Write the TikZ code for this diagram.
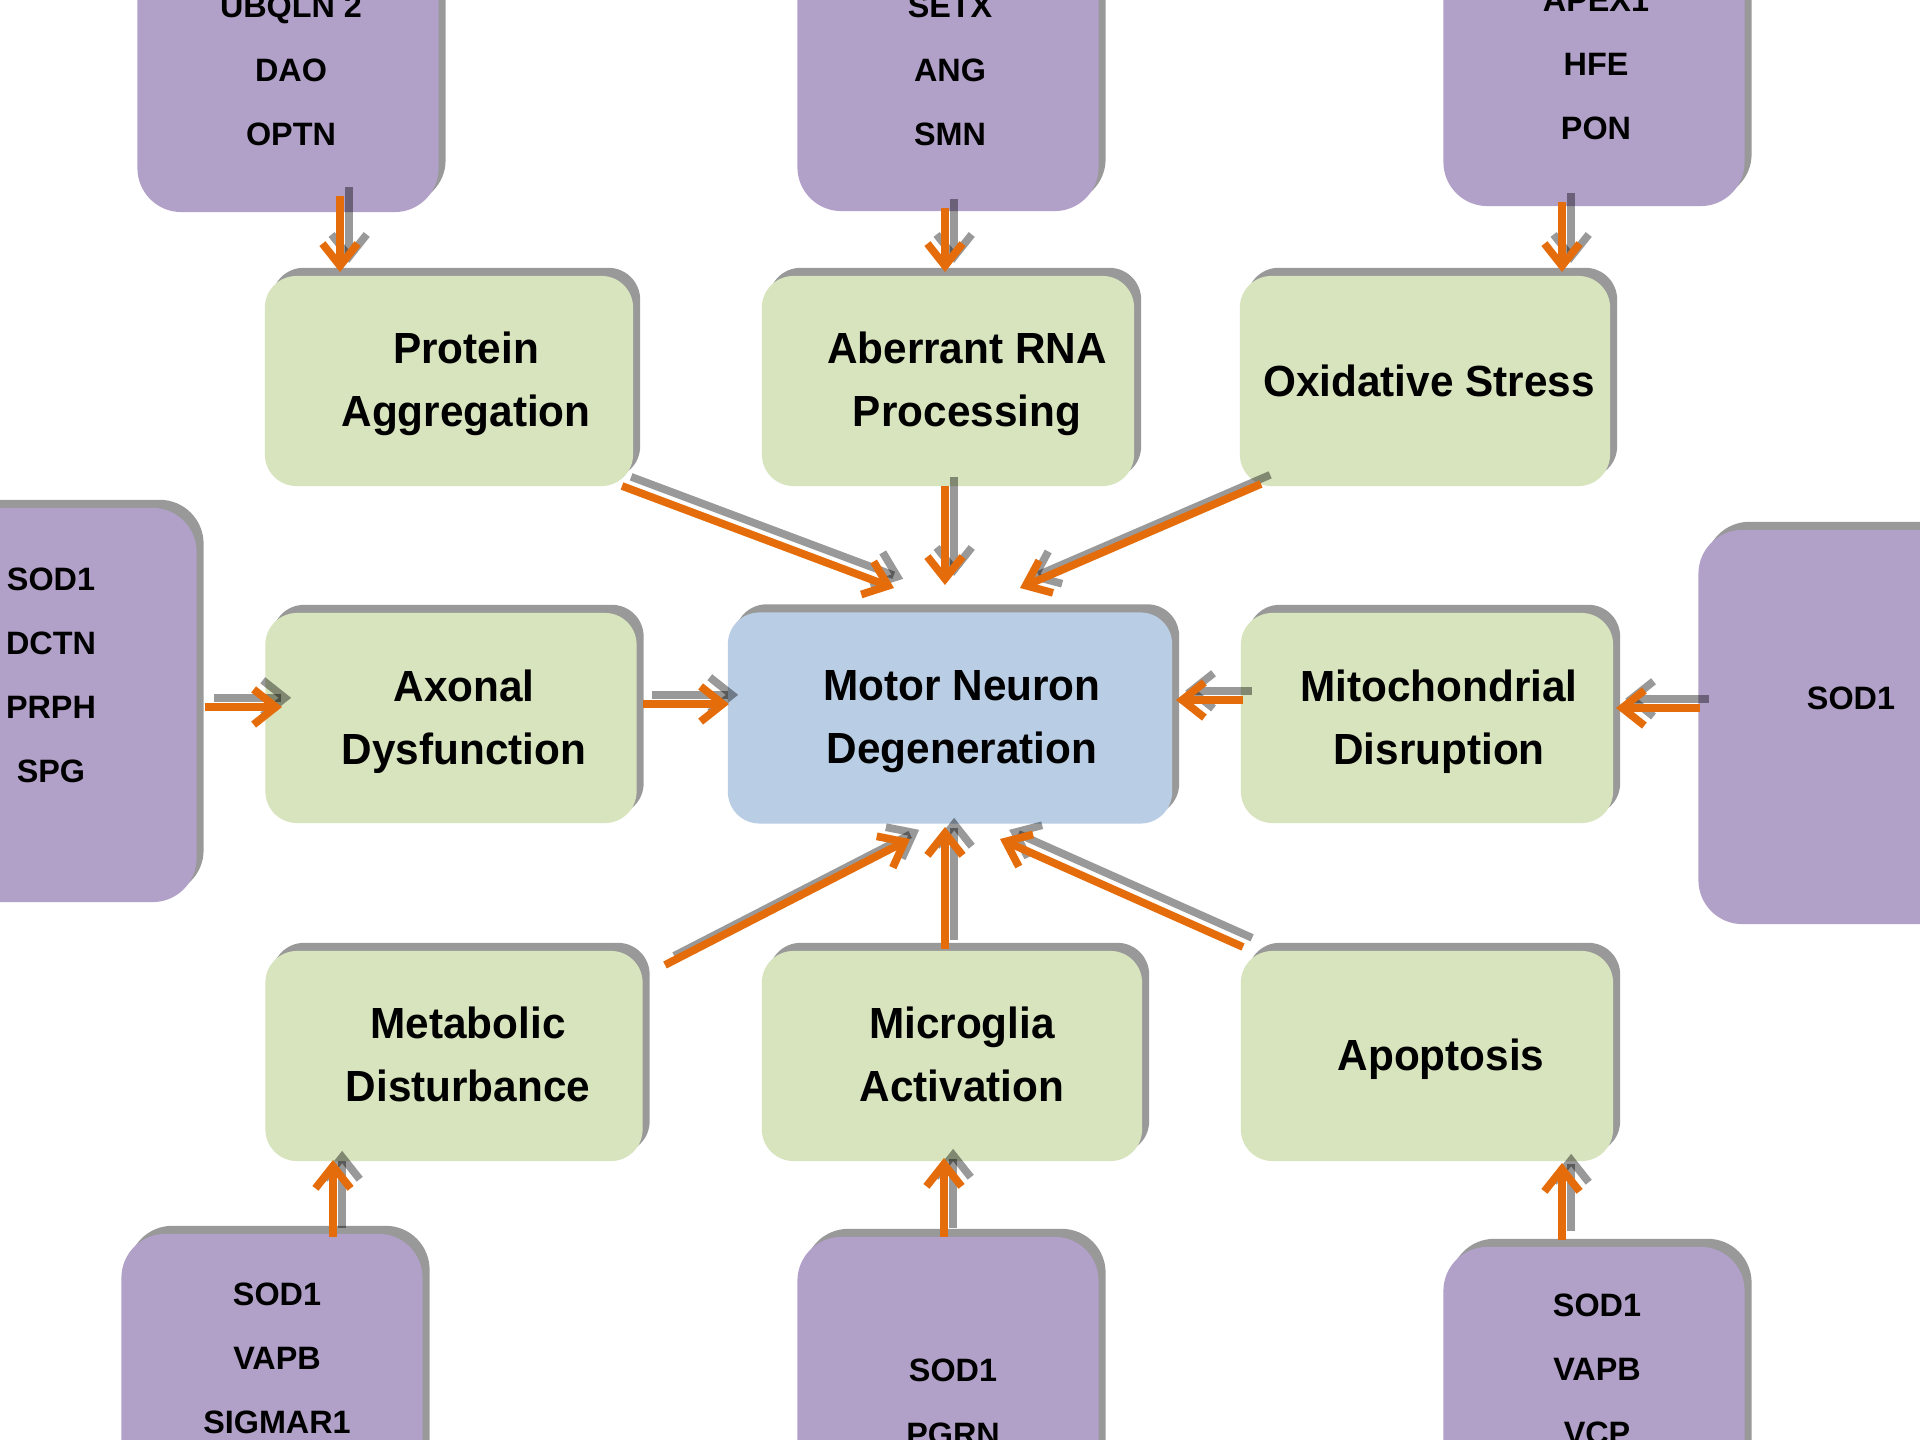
\documentclass[tikz,border=0pt]{standalone}
\usepackage{fontspec}
\setmainfont{Liberation Sans}
\newfontfamily\boxfont[FakeStretch=0.97]{Liberation Sans}
\usetikzlibrary{shadows,arrows.meta,calc}
\definecolor{purp}{RGB}{177,160,199}
\definecolor{grn}{RGB}{215,228,189}
\definecolor{blu}{RGB}{185,205,229}
\definecolor{orng}{RGB}{228,108,10}
\newcommand\myarrow[2]{%
  \draw[arrshadow] ([xshift=2.6pt,yshift=2.6pt]#1) -- ([xshift=2.6pt,yshift=2.6pt]#2);
  \draw[arrmain] (#1) -- (#2);}
\begin{document}
\begin{tikzpicture}[x=0.01cm,y=-0.01cm,
  boxshadow/.style={drop shadow={shadow xshift=2pt,shadow yshift=2.3pt,fill=black,opacity=0.4}},
  procbox/.style={rectangle,rounded corners=9pt,fill=grn,boxshadow,minimum width=3.71cm,minimum height=2.1cm,inner sep=0pt},
  corebox/.style={procbox,fill=blu,minimum width=4.44cm,minimum height=2.11cm},
  genebox/.style={rectangle,rounded corners=12.5pt,fill=purp,boxshadow,minimum width=3.01cm,minimum height=3.94cm,inner sep=0pt},
  proctext/.style={align=center,inner sep=0pt,font=\boxfont\bfseries\fontsize{12.4}{17.9}\selectfont},
  genetext/.style={align=center,inner sep=0pt,font=\bfseries\fontsize{9.2}{18.2}\selectfont},
  arrmain/.style={draw=orng,line width=2.2pt,-{Straight Barb[length=6.3pt,width=10pt]}},
  arrshadow/.style={arrmain,draw=black,opacity=0.4}]
\clip (0,0) rectangle (1920,1440);
\fill[white] (0,0) rectangle (1920,1440);

% gene boxes
\node[genebox] (tl) at (288,15) {};
\node[genebox] (tm) at (948,14) {};
\node[genebox] (tr) at (1594,9) {};
\node[genebox] (lb) at (46,705) {};
\node[genebox] (rb) at (1849,727) {};
\node[genebox] (bl) at (272,1431) {};
\node[genebox] (bm) at (948,1434) {};
\node[genebox] (br) at (1594,1444) {};

\node[genetext] (tlt) at (291,70) {UBQLN 2\\DAO\\OPTN};
\node[genetext] (tmt) at (950,70) {SETX\\ANG\\SMN};
\node[genetext] (trt) at (1596,65) {APEX1\\HFE\\PON};
\node[genetext] (lbt) at (51,675) {SOD1\\DCTN\\PRPH\\SPG};
\node[genetext] (rbt) at (1851,698) {SOD1};
\node[genetext] (blt) at (277,1358) {SOD1\\VAPB\\SIGMAR1};
\node[genetext] (bmt) at (953,1402) {SOD1\\PGRN};
\node[genetext] (brt) at (1597,1369) {SOD1\\VAPB\\VCP};

% process boxes
\node[procbox,minimum width=3.68cm] (pa) at (449,381) {};
\node[procbox,minimum width=3.72cm] (ar) at (948,381) {};
\node[procbox,minimum width=3.70cm] (os) at (1425,381) {};
\node[procbox] (ad) at (451,718) {};
\node[procbox,minimum width=3.72cm] (md) at (1427,718) {};
\node[corebox] (c) at (950,718) {};
\node[procbox,minimum width=3.77cm] (mb) at (454,1056) {};
\node[procbox,minimum width=3.80cm] (ma) at (952,1056) {};
\node[procbox,minimum width=3.72cm] (ap) at (1427,1056) {};

\node[proctext] (pat) at (466,384) {Protein\\Aggregation};
\node[proctext] (art) at (967,384) {Aberrant RNA\\Processing};
\node[proctext] (ost) at (1429,381) {Oxidative Stress};
\node[proctext] (adt) at (464,722) {Axonal\\Dysfunction};
\node[proctext] (mdt) at (1439,722) {Mitochondrial\\Disruption};
\node[proctext] (ct) at (962,722) {Motor Neuron\\Degeneration};
\node[proctext] (mbt) at (468,1054) {Metabolic\\Disturbance};
\node[proctext] (mat) at (962,1054) {Microglia\\Activation};
\node[proctext] (apt) at (1441,1059) {Apoptosis};

% connector end points
\coordinate (s1) at ($(tl)+(52,181)$);   \coordinate (e1) at ($(pa)+(-109,-109)$);
\coordinate (s2) at ($(tm)+(-3,194)$);   \coordinate (e2) at ($(ar)+(-3,-109)$);
\coordinate (s3) at ($(tr)+(-32,193)$);  \coordinate (e3) at ($(os)+(137,-109)$);
\coordinate (s4) at ($(lb)+(159,2)$);    \coordinate (e4) at ($(ad)+(-169,-11)$);
\coordinate (s5) at ($(rb)+(-149,-19)$); \coordinate (e5) at ($(md)+(189,-10)$);
\coordinate (s6) at ($(bl)+(61,-194)$);  \coordinate (e6) at ($(mb)+(-121,104)$);
\coordinate (s7) at ($(bm)+(-4,-197)$);  \coordinate (e7) at ($(ma)+(-8,102)$);
\coordinate (s8) at ($(br)+(-32,-204)$); \coordinate (e8) at ($(ap)+(135,107)$);
\coordinate (s9) at ($(pa)+(173,105)$);  \coordinate (e9) at ($(c)+(-56,-130)$);
\coordinate (s10) at ($(ar)+(-3,105)$);  \coordinate (e10) at ($(c)+(-5,-133)$);
\coordinate (s11) at ($(os)+(-164,103)$);\coordinate (e11) at ($(c)+(70,-130)$);
\coordinate (s12) at ($(ad)+(192,-14)$); \coordinate (e12) at ($(c)+(-221,-14)$);
\coordinate (s13) at ($(md)+(-184,-18)$);\coordinate (e13) at ($(c)+(226,-18)$);
\coordinate (s14) at ($(mb)+(211,-91)$); \coordinate (e14) at ($(c)+(-40,121)$);
\coordinate (s15) at ($(ma)+(-7,-107)$); \coordinate (e15) at ($(c)+(-5,109)$);
\coordinate (s16) at ($(ap)+(-184,-109)$);\coordinate (e16) at ($(c)+(50,121)$);

\myarrow{s1}{e1}
\myarrow{s2}{e2}
\myarrow{s3}{e3}
\myarrow{s4}{e4}
\myarrow{s5}{e5}
\myarrow{s6}{e6}
\myarrow{s7}{e7}
\myarrow{s8}{e8}
\myarrow{s9}{e9}
\myarrow{s10}{e10}
\myarrow{s11}{e11}
\myarrow{s12}{e12}
\myarrow{s13}{e13}
\myarrow{s14}{e14}
\myarrow{s15}{e15}
\myarrow{s16}{e16}
\end{tikzpicture}
\end{document}
